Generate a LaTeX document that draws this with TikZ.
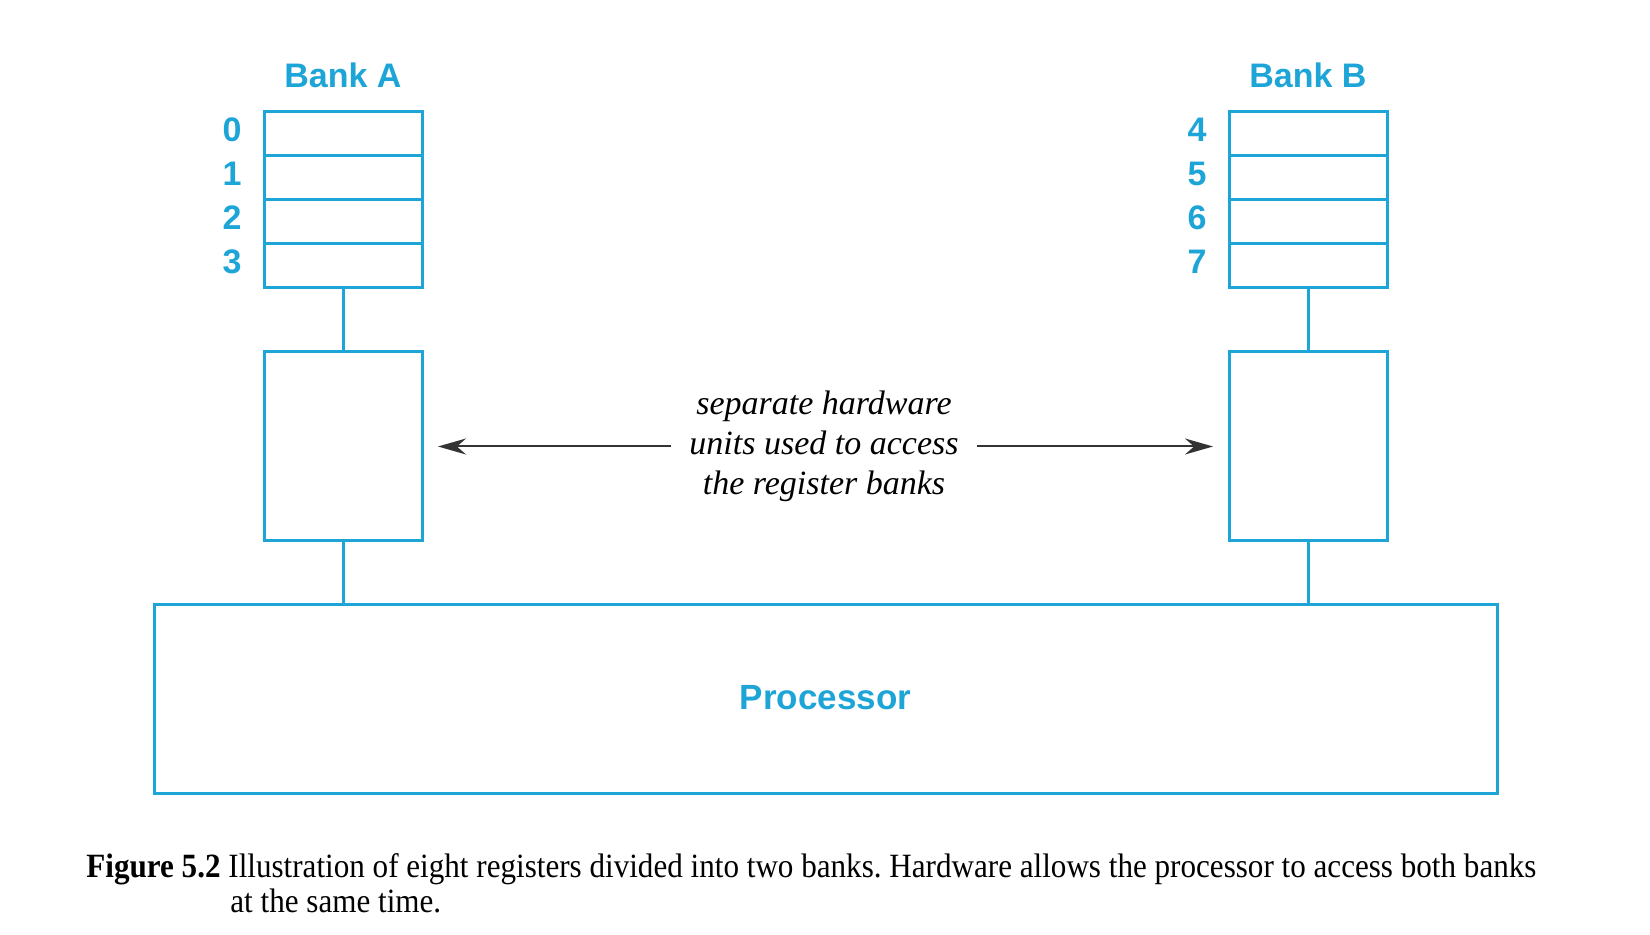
\documentclass[tikz,border=0pt]{standalone}
\usepackage{fontspec}
\setmainfont{Liberation Serif}
\setsansfont{Liberation Sans}
\newfontfamily\capfont{Liberation Serif}[FakeStretch=0.915]
\usetikzlibrary{positioning,arrows.meta}
\definecolor{regblue}{RGB}{30,165,215}
\frenchspacing

\begin{document}
\begin{tikzpicture}[x=0.5pt,y=-0.5pt,
    reg cell/.style={draw=regblue,line width=1.5pt,minimum width=79pt,minimum height=22pt,inner sep=0pt,outer sep=0pt},
    unit box/.style={draw=regblue,line width=1.5pt,minimum width=79pt,minimum height=94.5pt,outer sep=0pt},
    proc box/.style={draw=regblue,line width=1.5pt,minimum width=671.5pt,minimum height=94.5pt,outer sep=0pt,text=regblue,font=\sffamily\bfseries\fontsize{17.5}{20}\selectfont},
    bank label/.style={text=regblue,inner sep=0pt,font=\sffamily\bfseries\fontsize{17}{20}\selectfont},
    reg num/.style={bank label,yshift=2pt},
    link/.style={draw=regblue,line width=1.5pt},
    arrow/.style={-{Stealth[length=14pt,width=8pt]},draw=black!80,line width=1pt,shorten >=8pt}]

    \fill[white] (0,0) rectangle (1650,935);
    \useasboundingbox (0,0) rectangle (1650,935);

    % bank A
    \node[reg cell] (a0) at (343,134) {};
    \node[reg cell] (a1) [below=0pt of a0] {};
    \node[reg cell] (a2) [below=0pt of a1] {};
    \node[reg cell] (a3) [below=0pt of a2] {};
    \node[bank label] (bankA) [above=12pt of a0] {Bank A};
    \node[reg num] (n0) [left=11pt of a0] {0};
    \node[reg num] (n1) [left=11pt of a1] {1};
    \node[reg num] (n2) [left=11pt of a2] {2};
    \node[reg num] (n3) [left=11pt of a3] {3};
    \node[unit box] (ua) [below=32pt of a3] {};

    % bank B
    \node[reg cell] (b4) at (1308,134) {};
    \node[reg cell] (b5) [below=0pt of b4] {};
    \node[reg cell] (b6) [below=0pt of b5] {};
    \node[reg cell] (b7) [below=0pt of b6] {};
    \node[bank label] (bankB) [above=12pt of b4] {Bank B};
    \node[reg num] (n4) [left=11pt of b4] {4};
    \node[reg num] (n5) [left=11pt of b5] {5};
    \node[reg num] (n6) [left=11pt of b6] {6};
    \node[reg num] (n7) [left=11pt of b7] {7};
    \node[unit box] (ub) [below=32pt of b7] {};

    \node[proc box] (proc) at (825.5,698.5) {\raisebox{1.5pt}{Processor}};

    \node[align=center,inner xsep=9pt,font=\itshape\fontsize{17}{20}\selectfont] (note) at (824,446.5)
        {separate hardware\\units used to access\\the register banks};

    \path[link]
        (a3.south) edge (ua.north)
        (b7.south) edge (ub.north)
        (ua.south) edge (ua.south |- proc.north)
        (ub.south) edge (ub.south |- proc.north)
    ;

    \draw[arrow] (note.west) -- (ua.east);
    \draw[arrow] (note.east) -- (ub.west);

    \node[anchor=north west,inner sep=0pt,align=left,font=\capfont\fontsize{17}{17.5}\selectfont] (caption) at (86,853)
        {\textbf{Figure 5.2} Illustration of eight registers divided into two banks. Hardware allows the processor to access both banks\\
         \hspace*{72pt}at the same time.};

\end{tikzpicture}
\end{document}
